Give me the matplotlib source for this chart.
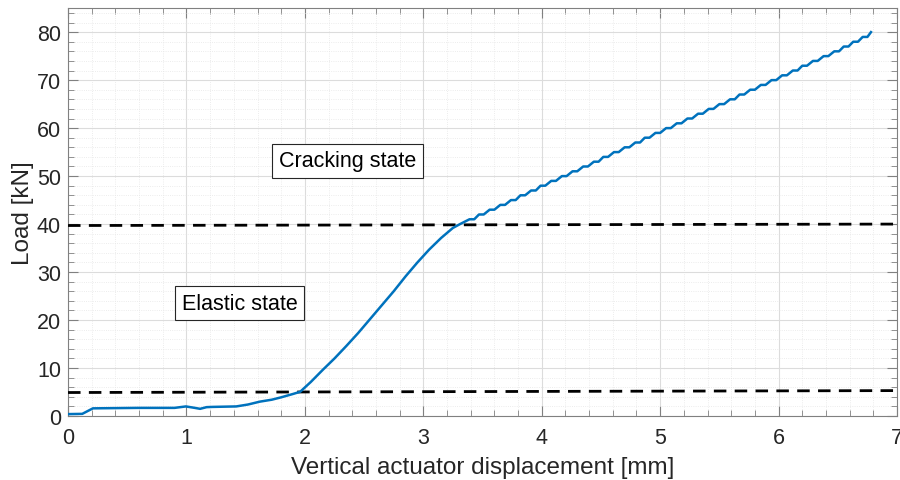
import matplotlib
matplotlib.use("Agg")
import matplotlib.pyplot as plt
from matplotlib.ticker import MultipleLocator

plt.rcParams['font.family'] = ['Liberation Sans', 'DejaVu Sans']

# Pre-cracking part of the curve (displacement mm, load kN)
disp_low = [0.0, 0.12, 0.21, 0.4, 0.6, 0.9, 0.995, 1.07, 1.115, 1.17, 1.22, 1.42,
            1.52, 1.62, 1.72, 1.8, 1.9, 1.96, 2.05, 2.15, 2.25, 2.35, 2.45, 2.55,
            2.65, 2.75, 2.85, 2.95, 3.05, 3.15, 3.25, 3.31]
load_low = [0.4, 0.45, 1.6, 1.65, 1.7, 1.7, 2.0, 1.7, 1.5, 1.85, 1.9, 2.0,
            2.4, 3.0, 3.4, 3.9, 4.6, 5.05, 7.1, 9.6, 12.0, 14.6, 17.3, 20.2,
            23.1, 26.0, 29.1, 32.0, 34.7, 37.1, 39.2, 40.0]
# Cracking stage: staircase, displacement at each load step
step_disp = [3.39, 3.47, 3.56, 3.65, 3.74, 3.82, 3.91, 3.99, 4.08, 4.17,
             4.26, 4.35, 4.44, 4.52, 4.61, 4.70, 4.79, 4.87, 4.96, 5.05,
             5.14, 5.23, 5.32, 5.41, 5.50, 5.59, 5.67, 5.76, 5.85, 5.94,
             6.03, 6.12, 6.20, 6.29, 6.38, 6.47, 6.55, 6.63, 6.71, 6.78]
step_load = [41, 42, 43, 44, 45, 46, 47, 48, 49, 50,
             51, 52, 53, 54, 55, 56, 57, 58, 59, 60,
             61, 62, 63, 64, 65, 66, 67, 68, 69, 70,
             71, 72, 73, 74, 75, 76, 77, 78, 79, 80]
# Threshold lines (x ends, y ends)
thr_x = [0, 7]
elastic_y = [4.9, 5.3]
cracking_y = [39.7, 40.0]

x = list(disp_low)
y = list(load_low)
for i, (sx, sl) in enumerate(zip(step_disp, step_load)):
    x.append(sx)
    y.append(sl)
    if i < len(step_disp) - 1:
        x.append(sx + 0.04)
        y.append(sl)

fig = plt.figure(figsize=(9, 4.81), dpi=100)
ax = fig.add_axes([0.0756, 0.133, 0.9211, 0.848])

ax.plot(thr_x, cracking_y, color='black', lw=2.0, ls=(0, (4.5, 3)), zorder=3)
ax.plot(thr_x, elastic_y, color='black', lw=2.0, ls=(0, (4.5, 3)), zorder=3)
ax.plot(x, y, color='#0072BD', lw=1.8, zorder=4)

ax.set_xlim(0, 7)
ax.set_ylim(0, 85)
ax.xaxis.set_major_locator(MultipleLocator(1))
ax.xaxis.set_minor_locator(MultipleLocator(0.2))
ax.yaxis.set_major_locator(MultipleLocator(10))
ax.yaxis.set_minor_locator(MultipleLocator(2))
ax.grid(which='major', color='#dcdcdc', lw=0.8)
ax.grid(which='minor', color='#e6e6e6', lw=0.6, ls=':')
ax.set_axisbelow(True)
ax.tick_params(which='both', direction='in', top=True, right=True,
               colors='#808080', labelcolor='#262626', labelsize=15.5)
ax.tick_params(which='major', length=7)
ax.tick_params(which='minor', length=4)
ax.tick_params(axis='x', which='major', pad=8)
ax.tick_params(axis='y', which='major', pad=5)
for s in ax.spines.values():
    s.set_color('#808080')
    s.set_linewidth(0.8)

ax.set_xlabel('Vertical actuator displacement [mm]', fontsize=17.5, color='#262626', labelpad=6)
ax.set_ylabel('Load [kN]', fontsize=17.5, color='#262626', labelpad=2)

box = dict(boxstyle='square,pad=0.3', fc='white', ec='#262626', lw=0.8)
ax.text(2.36, 53.2, 'Cracking state', fontsize=15.5, ha='center', va='center', bbox=box, zorder=5)
ax.text(1.45, 23.5, 'Elastic state', fontsize=15.5, ha='center', va='center', bbox=box, zorder=5)

fig.savefig('out.png', dpi=100)
